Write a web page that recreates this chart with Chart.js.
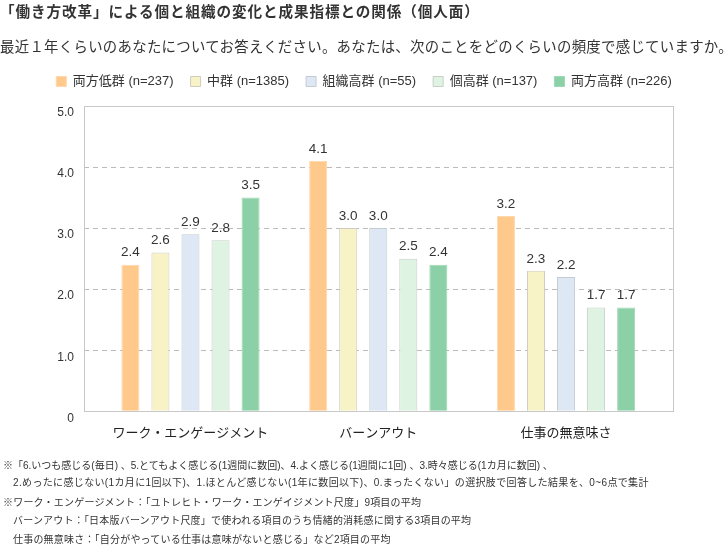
<!DOCTYPE html>
<html>
<head>
<meta charset="utf-8">
<script src="https://cdn.jsdelivr.net/npm/chart.js@4.4.0/dist/chart.umd.min.js"></script>
<style>
  body { margin: 0; background: #fff; }
  #wrap { position: relative; width: 728px; height: 558px; overflow: hidden; font-family: "Liberation Sans", "Noto Sans CJK JP", sans-serif; color: #333; }
  #myChart { position: absolute; left: 0; top: 0; }
  .line { position: absolute; white-space: nowrap; line-height: 18px; }
  .title { left: 0; top: 3px; font-size: 14.6px; font-weight: bold; letter-spacing: 0.9px; }
  .sub { left: 0; top: 38px; font-size: 14.4px; letter-spacing: 0.3px; }
  .note { font-size: 10px; color: #333; letter-spacing: 0.2px; }
</style>
</head>
<body>
<div id="wrap">
  <canvas id="myChart" width="728" height="558"></canvas>
  <div class="line title">「働き方改革」による個と組織の変化と成果指標との関係（個人面）</div>
  <div class="line sub">最近１年くらいのあなたについてお答えください。あなたは、次のことをどのくらいの頻度で感じていますか。</div>
  <div class="line note" style="left:3px;top:457px;letter-spacing:0;">※「6.いつも感じる(毎日) 、5.とてもよく感じる(1週間に数回)、4.よく感じる(1週間に1回) 、3.時々感じる(1カ月に数回) 、</div>
  <div class="line note" style="left:13px;top:474px;letter-spacing:0.35px;">2.めったに感じない(1カ月に1回以下)、1.ほとんど感じない(1年に数回以下)、0.まったくない」の選択肢で回答した結果を、0~6点で集計</div>
  <div class="line note" style="left:3px;top:494px;">※ワーク・エンゲージメント：「ユトレヒト・ワーク・エンゲイジメント尺度」9項目の平均</div>
  <div class="line note" style="left:13px;top:512px;">バーンアウト：「日本版バーンアウト尺度」で使われる項目のうち情緒的消耗感に関する3項目の平均</div>
  <div class="line note" style="left:13px;top:531px;">仕事の無意味さ：「自分がやっている仕事は意味がないと感じる」など2項目の平均</div>
</div>
<script>
// categories on the x axis
var categories = ['ワーク・エンゲージメント', 'バーンアウト', '仕事の無意味さ'];
// group names (legend)
var groups = ['両方低群 (n=237)', '中群 (n=1385)', '組織高群 (n=55)', '個高群 (n=137)', '両方高群 (n=226)'];
// mean scores per group
var lowBoth = [2.4, 4.1, 3.2];
var middle = [2.6, 3.0, 2.3];
var orgHigh = [2.9, 3.0, 2.2];
var indivHigh = [2.8, 2.5, 1.7];
var highBoth = [3.5, 2.4, 1.7];
var yTicks = [0, 1, 2, 3, 4, 5];

var series = [lowBoth, middle, orgHigh, indivHigh, highBoth];
var fills = ['#FFC98B', '#F8F2C7', '#DDE8F4', '#DFF3E3', '#8BD0A6'];
var borders = ['#FFD8AE', '#CFCDBF', '#C6CBD1', '#C8CFCA', '#9ED7B4'];
var mixedFont = '"Liberation Sans", "Noto Sans CJK JP", sans-serif';

// bars sit on a linear x scale so the groups can be placed inside the frame
var datasets = series.map(function (values, s) {
  return {
    label: groups[s],
    data: values.map(function (v, i) { return { x: i, y: v }; }),
    backgroundColor: fills[s],
    borderColor: borders[s],
    borderWidth: 1,
    categoryPercentage: 0.8,
    barPercentage: 0.6
  };
});

// frame around the plot + value labels above bars
var frameAndLabels = {
  id: 'frameAndLabels',
  beforeUpdate: function (chart) {
    // a bit more room between legend and plot
    var lg = chart.legend;
    if (lg && !lg._gapPatched) {
      var fit = lg.fit;
      lg.fit = function () { fit.call(this); this.height += 8; };
      lg._gapPatched = true;
    }
  },
  afterDatasetsDraw: function (chart) {
    var ctx = chart.ctx;
    var a = chart.chartArea;
    ctx.save();
    ctx.strokeStyle = '#C8C8C8';
    ctx.lineWidth = 1;
    ctx.setLineDash([]);
    ctx.strokeRect(Math.round(a.left) + 0.5, Math.round(a.top) + 0.5, Math.round(a.right - a.left), Math.round(a.bottom - a.top));

    ctx.fillStyle = '#333';
    ctx.font = '13.5px "Liberation Sans", Arial, sans-serif';
    ctx.textAlign = 'center';
    ctx.textBaseline = 'middle';
    chart.data.datasets.forEach(function (ds, s) {
      chart.getDatasetMeta(s).data.forEach(function (bar, i) {
        ctx.fillText(series[s][i].toFixed(1), bar.x, bar.y - 12);
      });
    });
    ctx.restore();
  }
};

var ctx = document.getElementById('myChart').getContext('2d');
var myChart = new Chart(ctx, {
  type: 'bar',
  data: { datasets: datasets },
  plugins: [frameAndLabels],
  options: {
    responsive: false,
    animation: false,
    layout: { padding: { left: 0, right: 0, top: 58, bottom: 106.7 } },
    plugins: {
      tooltip: { enabled: false },
      legend: {
        position: 'top',
        labels: {
          boxWidth: 10,
          boxHeight: 10,
          padding: 17,
          color: '#333',
          font: { size: 13, family: mixedFont }
        }
      }
    },
    scales: {
      x: {
        type: 'linear',
        min: -0.567,
        max: 2.568,
        offset: false,
        grid: { display: false, drawTicks: false },
        border: { display: false },
        afterBuildTicks: function (scale) {
          scale.ticks = categories.map(function (c, i) { return { value: i }; });
        },
        afterFit: function (scale) { scale.height = 40; },
        ticks: {
          autoSkip: false,
          maxRotation: 0,
          minRotation: 0,
          padding: 14,
          color: '#222',
          font: { size: 13, family: mixedFont },
          callback: function (v) { return categories[v]; }
        }
      },
      y: {
        min: 0,
        max: 5,
        afterBuildTicks: function (scale) {
          scale.ticks = yTicks.map(function (v) { return { value: v }; });
        },
        afterFit: function (scale) { scale.width = 84; },
        grid: { color: '#BBBBBB', drawTicks: false },
        border: { display: false, dash: [5, 4] },
        ticks: {
          padding: 10,
          labelOffset: 7,
          color: '#333',
          font: { size: 12, family: '"Liberation Sans", Arial, sans-serif' },
          callback: function (v) { return v === 0 ? '0' : v.toFixed(1); }
        }
      },
      // empty right axis, only keeps the right margin so the legend stays centred on the page
      yRight: {
        position: 'right',
        min: 0,
        max: 5,
        grid: { display: false, drawTicks: false },
        border: { display: false },
        ticks: { display: false },
        afterFit: function (scale) { scale.width = 55.3; }
      }
    }
  }
});
</script>
</body>
</html>
